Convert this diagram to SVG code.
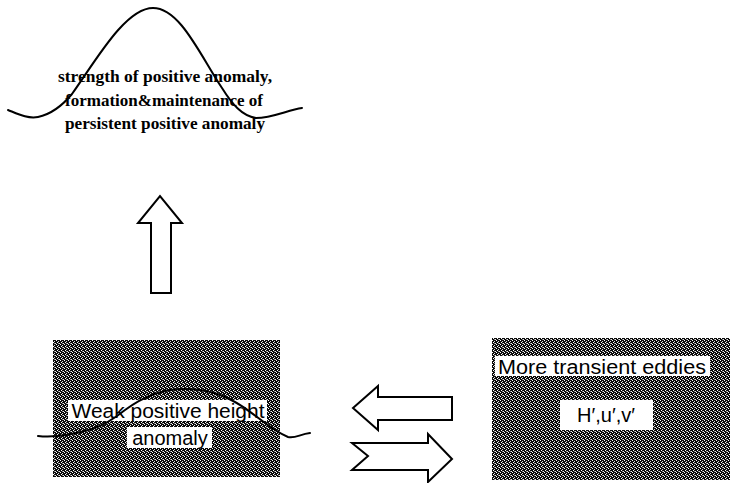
<svg xmlns="http://www.w3.org/2000/svg" width="730" height="483" viewBox="0 0 730 483">
<defs>
<pattern id="dither" width="4" height="4" patternUnits="userSpaceOnUse">
<rect width="4" height="4" fill="#0a0a0a"/>
<rect x="0" y="0" width="1" height="1" fill="#fff"/>
<rect x="2" y="1" width="1" height="1" fill="#ddd"/>
<rect x="1" y="2" width="1" height="1" fill="#fff"/>
<rect x="3" y="3" width="1" height="1" fill="#eee"/>
<rect x="2" y="3" width="1" height="1" fill="#888"/>
</pattern>
<style>
.serif{font-family:"Liberation Serif","Times New Roman",serif;font-weight:bold;font-size:16px;fill:#000}
.sans{font-family:"Liberation Sans",Arial,sans-serif;font-size:20px;fill:#000}
.curve{fill:none;stroke:#000;stroke-width:2;stroke-linecap:round}
.arrow{fill:#fff;stroke:#000;stroke-width:2;stroke-linejoin:miter}
.box{fill:url(#dither)}
.label{fill:#fff}
</style>
</defs>

<g id="top-anomaly">
<path class="curve" d="M8,110 C18,114 28,119 38,117 C52,114 62,106 72,94 C95,62 125,8 153,8 C180,8 200,55 222,88 C232,104 242,116 256,118 C272,118 288,110 302,108"/>
<text class="serif" x="165" y="82" text-anchor="middle" textLength="214" lengthAdjust="spacingAndGlyphs">strength of positive anomaly,</text>
<text class="serif" x="164" y="106" text-anchor="middle" textLength="198" lengthAdjust="spacingAndGlyphs">formation&amp;maintenance of</text>
<text class="serif" x="165" y="129" text-anchor="middle" textLength="200" lengthAdjust="spacingAndGlyphs">persistent positive anomaly</text>
</g>

<g id="weak-anomaly">
<rect class="box" x="53" y="340" width="227" height="137"/>
<rect class="label" x="68" y="400" width="199" height="21"/>
<rect class="label" x="127" y="427" width="85" height="21"/>
<text class="sans" x="168" y="418" text-anchor="middle" textLength="193" lengthAdjust="spacingAndGlyphs">Weak positive height</text>
<text class="sans" x="170" y="445" text-anchor="middle">anomaly</text>
<path class="curve" d="M38,436 C55,438 75,434 92,429 C105,425 115,418 125,410 C145,395 165,388 188,389 C210,390 222,395 235,402 C255,413 270,430 288,437 C295,439 300,434 310,433"/>
</g>

<g id="transient-eddies">
<rect class="box" x="492" y="338" width="238" height="142"/>
<rect class="label" x="495" y="356" width="215" height="20"/>
<rect class="label" x="560" y="400" width="93" height="30"/>
<text class="sans" x="602" y="374" text-anchor="middle" font-size="19" textLength="208" lengthAdjust="spacingAndGlyphs">More transient eddies</text>
<text class="sans" x="606" y="422" text-anchor="middle" font-size="19">H′,u′,v′</text>
</g>

<g id="connectors">
<path class="arrow" d="M151,293 L151,223 L138,223 L160,196 L182,223 L171,223 L171,293 Z"/>
<path class="arrow" d="M452,397 L378,397 L378,386 L353,408 L378,430 L378,420 L452,420 Z"/>
<path class="arrow" d="M352,443 L428,443 L428,434 L452,459 L428,482 L428,470 L352,470 L368,456 Z"/>
</g>
</svg>
